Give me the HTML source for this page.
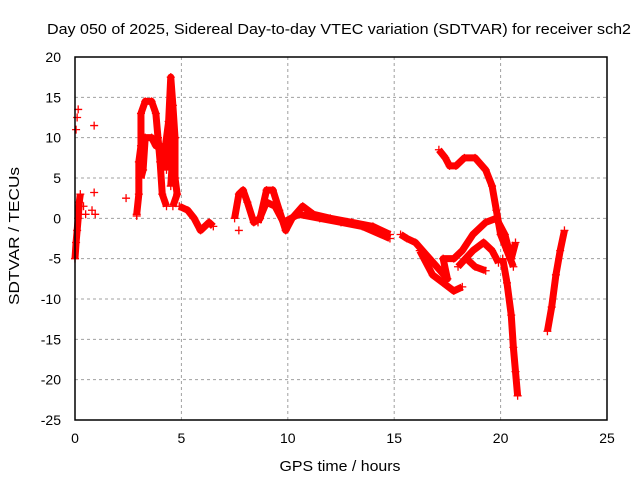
<!DOCTYPE html>
<html><head><meta charset="utf-8"><style>
body{margin:0;background:#fff}
svg{display:block;font-family:"Liberation Sans",sans-serif}
</style></head><body>
<svg id="c" width="640" height="480">
<text x="339" y="34" font-size="15" text-anchor="middle" textLength="584" lengthAdjust="spacingAndGlyphs">Day 050 of 2025, Sidereal Day-to-day VTEC variation (SDTVAR) for receiver sch2</text>
<text x="340" y="471" font-size="15" text-anchor="middle" textLength="121" lengthAdjust="spacingAndGlyphs">GPS time / hours</text>
<text x="19" y="236" font-size="15" text-anchor="middle" textLength="138" lengthAdjust="spacingAndGlyphs" transform="rotate(-90 19 236)">SDTVAR / TECUs</text>
<g id="grid"></g><g id="marks"></g>
<rect x="75" y="57" width="532" height="363" fill="none" stroke="#000" stroke-width="1.5"/>
</svg>
<script>
const xTicks=[0,5,10,15,20,25];
const yTicks=[20,15,10,5,0,-5,-10,-15,-20,-25];
const traceEarly=[[0,-5],[0.05,-3],[0.1,-1.5],[0.15,0],[0.2,2],[0.25,3]];
const isolated=[[0.05,11],[0.1,12.5],[0.15,13.5],[0.9,11.5],[0.4,1.5],[0.5,0.5],[0.8,1],[0.9,3.2],[0.95,0.5],[2.4,2.5],[2.9,0.3],[7.7,-1.5]];
const traceHump=[[2.9,0.5],[3.0,3],[3.0,7],[3.1,9],[3.1,13],[3.3,14.5],[3.6,14.5],[3.8,13],[3.9,10],[4.0,7],[4.1,3],[4.3,1.5]];
const traceHumpInner=[[3.1,5],[3.2,6],[3.3,10],[3.6,10],[3.8,9],[4.0,9],[4.1,6]];
const traceSpike=[[4.2,8],[4.4,12],[4.5,17.5],[4.6,14],[4.7,10],[4.7,5],[4.8,3],[4.6,1.5]];
const traceSpike2=[[4.3,6],[4.4,9],[4.5,14],[4.55,11],[4.6,8],[4.5,4]];
const traceDip=[[4.9,1.5],[5.3,1],[5.6,0],[5.9,-1.5],[6.3,-0.5],[6.5,-1]];
const traceMid=[[7.5,0],[7.7,3],[7.9,3.5],[8.1,2],[8.4,-0.5],[8.7,0],[9.0,3.5],[9.3,3.5],[9.6,1],[9.9,-1.5],[10.2,0],[10.7,1.5],[11.2,0.5],[12,0],[13,-0.5],[14,-1],[14.8,-2]];
const traceMid2=[[8.6,-0.5],[9.0,2],[9.4,1.5],[9.8,-0.5],[10.5,0.5],[11.5,0],[12.5,-0.5],[13.5,-1],[14.8,-2.5]];
const traceLate=[[15.3,-2],[15.6,-2.5],[16,-3],[16.5,-4.5],[17,-6],[17.5,-7.5],[17.3,-5],[17.8,-5],[18.2,-4],[18.7,-2],[19.3,-0.5],[19.8,0],[20.2,-2],[20.5,-5],[20.7,-3]];
const traceLate2=[[16.2,-4],[16.8,-7],[17.3,-8],[17.8,-9],[18.2,-8.5]];
const traceLate3=[[18,-6],[18.7,-4],[19.2,-3],[19.6,-4],[19.9,-5.5]];
const traceLate4=[[18.4,-5],[18.8,-6],[19.3,-6.5]];
const traceHigh=[[17.1,8.5],[17.4,7.5],[17.6,6.5],[17.9,6.5],[18.3,7.5],[18.8,7.5],[19.3,6],[19.6,4],[19.8,1],[20.0,-2],[20.3,-4],[20.6,-6]];
const traceDrop=[[20.1,-5],[20.3,-8],[20.5,-12],[20.6,-16],[20.7,-19],[20.8,-22]];
const traceEnd=[[22.2,-14],[22.4,-11],[22.6,-7],[22.8,-4],[23.0,-1.5]];
const traces=[traceEarly,traceHump,traceHumpInner,traceSpike,traceSpike2,traceDip,traceMid,traceMid2,traceLate,traceLate2,traceLate3,traceLate4,traceHigh,traceDrop,traceEnd];
const NS="http://www.w3.org/2000/svg";
const X=v=>75+v*532/25, Y=v=>420-(v+25)*363/45;
const grid=document.getElementById('grid'), marks=document.getElementById('marks');
function mk(t,a,p){const e=document.createElementNS(NS,t);for(const k in a)e.setAttribute(k,a[k]);p.appendChild(e);return e;}
xTicks.forEach(t=>{
 if(t>0&&t<25){const l=mk('line',{x1:X(t),x2:X(t),y1:57,y2:420,stroke:'#a0a0a0','stroke-dasharray':'3,3'},grid);
 
 }
 const s=mk('text',{x:X(t),y:443,'font-size':14,'text-anchor':'middle'},grid);s.textContent=t;
 
 
});
yTicks.forEach(t=>{
 if(t<20&&t>-25){const l=mk('line',{x1:75,x2:607,y1:Y(t),y2:Y(t),stroke:'#a0a0a0','stroke-dasharray':'3,3'},grid);
 
 }
 const s=mk('text',{x:61,y:Y(t)+5,'font-size':14,'text-anchor':'end'},grid);s.textContent=t;
 
 
});
function plus(p){const x=X(p[0]),y=Y(p[1]);
 const m=mk('path',{d:`M${x-4},${y}H${x+4}M${x},${y-4}V${y+4}`,stroke:'#f00','stroke-width':1.3},marks);
 
 }
traces.forEach(tr=>{
 const pl=mk('polyline',{points:tr.map(p=>X(p[0])+','+Y(p[1])).join(' '),fill:'none',stroke:'#f00','stroke-width':7,'stroke-linejoin':'round'},marks);
 
 
 tr.forEach(plus);
});
isolated.forEach(plus);
</script>
</body></html>
